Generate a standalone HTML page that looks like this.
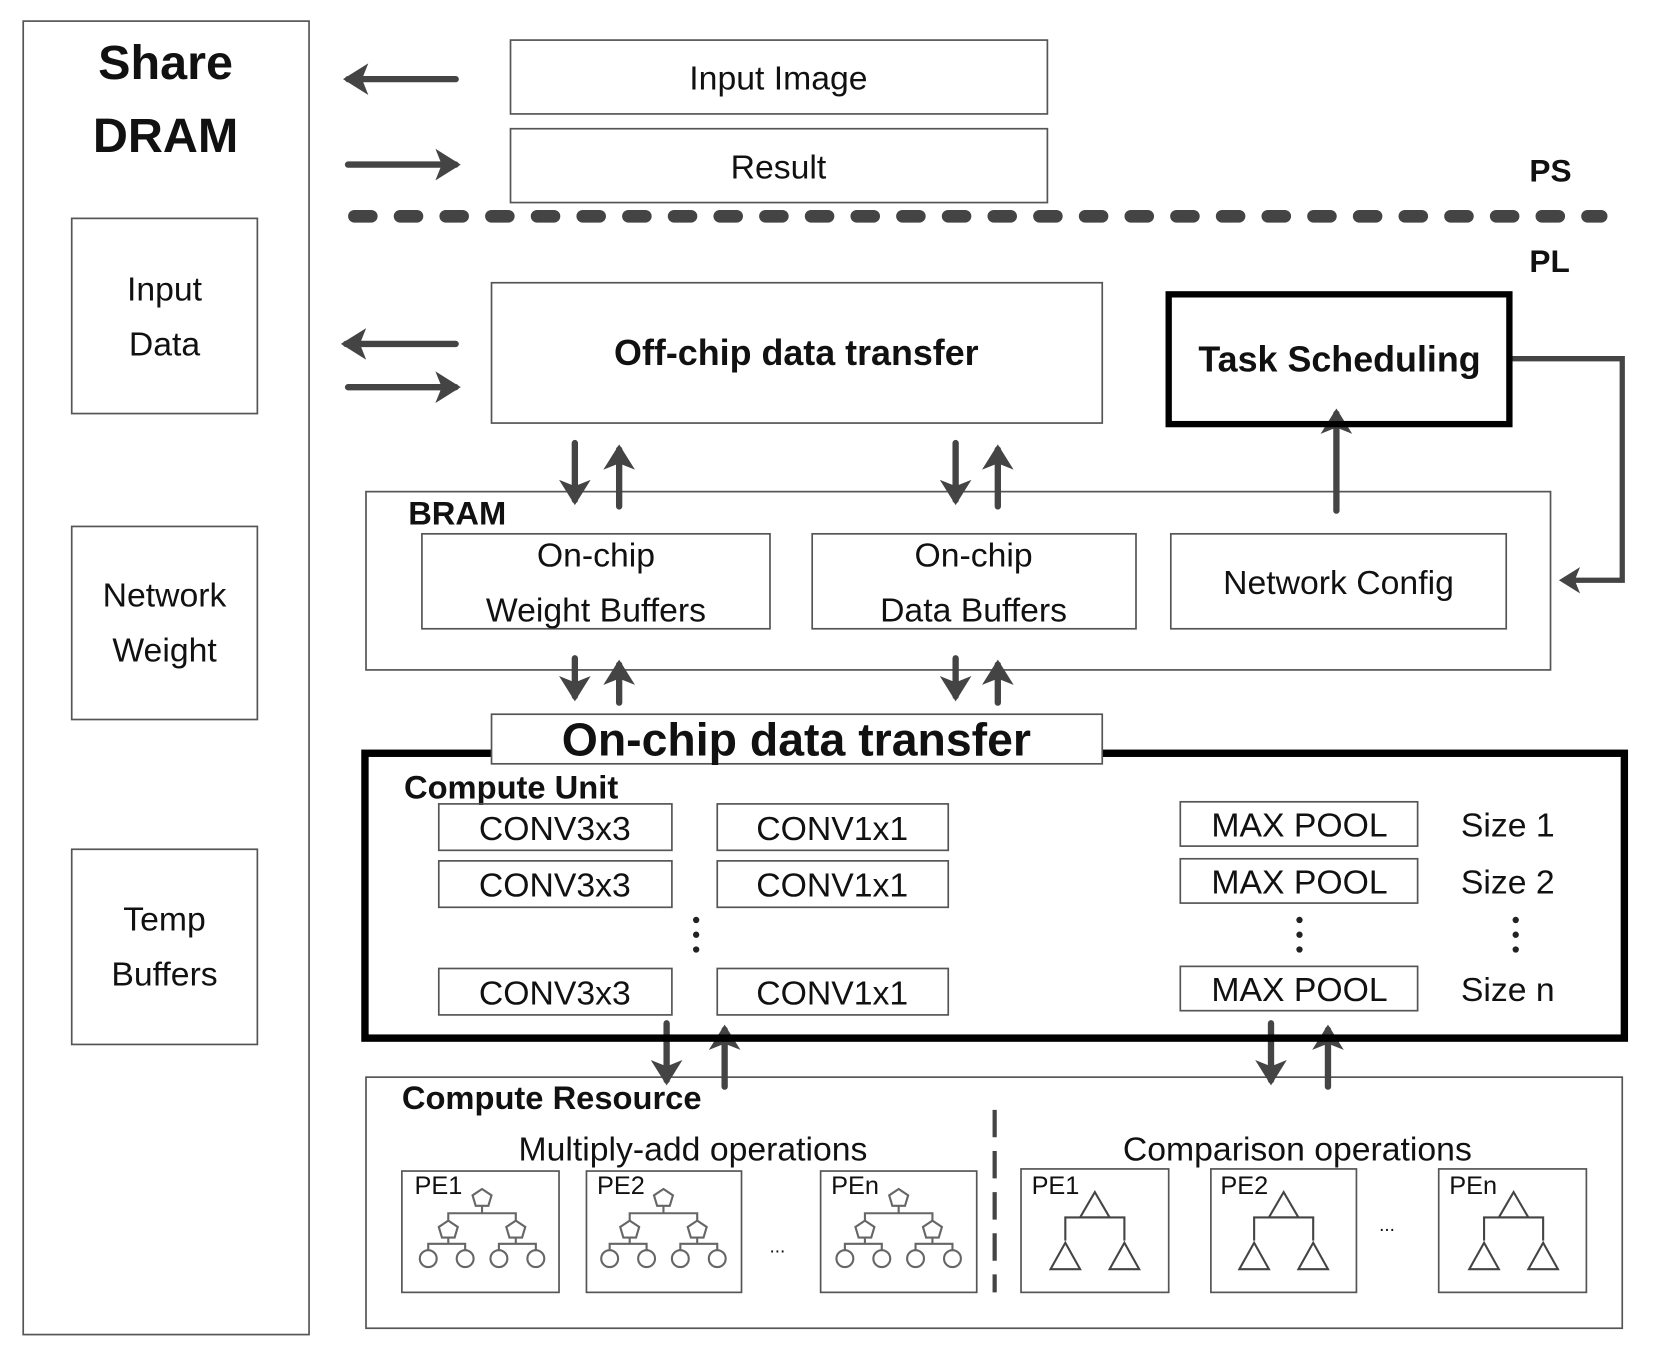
<!DOCTYPE html>
<html><head><meta charset="utf-8"><style>
html,body{margin:0;padding:0;background:#fff;}
svg{display:block;}
text{font-family:"Liberation Sans",sans-serif;fill:#111;}
.b{font-weight:bold;}
</style></head><body>
<svg width="1656" height="1362" viewBox="0 0 1570 1291" preserveAspectRatio="none" xmlns="http://www.w3.org/2000/svg">
<defs>
<marker id="ah" markerWidth="5" markerHeight="5" refX="3.2" refY="2.5" orient="auto" markerUnits="strokeWidth">
<path d="M0,0 L4,2.5 L0,5 L1,2.5 Z" fill="#444"/>
</marker>
<g id="pt" fill="none" stroke="#666" stroke-width="2">
<polygon points="76,17 85,23 82,33 70,33 67,23" fill="#fff"/>
<polyline points="76,33 76,40"/>
<polyline points="44,48 44,40 108,40 108,48"/>
<polygon points="44,47 53,53 50,63 38,63 35,53" fill="#fff"/>
<polygon points="108,47 117,53 114,63 102,63 99,53" fill="#fff"/>
<polyline points="25,75 25,69 60,69 60,75"/>
<polyline points="92,75 92,69 127,69 127,75"/>
<polyline points="44,63 44,69"/><polyline points="108,63 108,69"/>
<circle cx="25" cy="83" r="8"/><circle cx="60" cy="83" r="8"/>
<circle cx="92" cy="83" r="8"/><circle cx="127" cy="83" r="8"/>
</g>
<g id="tt" fill="none" stroke="#444" stroke-width="2">
<polygon points="70,22 84,46 56,46" fill="#fff"/>
<polyline points="42,68 42,46 98,46 98,68"/>
<polygon points="42,70 56,95 28,95" fill="#fff"/>
<polygon points="98,70 112,95 84,95" fill="#fff"/>
</g>
</defs>

<g fill="none" stroke="#555" stroke-width="1.6">
<rect x="22" y="20" width="271" height="1245"/>
<rect x="68" y="207" width="176" height="185"/>
<rect x="68" y="499" width="176" height="183"/>
<rect x="68" y="805" width="176" height="185"/>
<rect x="484" y="38" width="509" height="70"/>
<rect x="484" y="122" width="509" height="70"/>
<rect x="466" y="268" width="579" height="133"/>
<rect x="347" y="466" width="1123" height="169"/>
<rect x="400" y="506" width="330" height="90"/>
<rect x="770" y="506" width="307" height="90"/>
<rect x="1110" y="506" width="318" height="90"/>
<rect x="347" y="1021" width="1191" height="238"/>
</g>

<text x="157" y="75" font-size="46" text-anchor="middle" class="b">Share</text>
<text x="157" y="144" font-size="46" text-anchor="middle" class="b">DRAM</text>
<text x="156" y="285" font-size="32" text-anchor="middle">Input</text>
<text x="156" y="337" font-size="32" text-anchor="middle">Data</text>
<text x="156" y="575" font-size="32" text-anchor="middle">Network</text>
<text x="156" y="627" font-size="32" text-anchor="middle">Weight</text>
<text x="156" y="882" font-size="32" text-anchor="middle">Temp</text>
<text x="156" y="934" font-size="32" text-anchor="middle">Buffers</text>

<text x="738" y="85" font-size="32" text-anchor="middle">Input Image</text>
<text x="738" y="169" font-size="32" text-anchor="middle">Result</text>
<text x="1450" y="172" font-size="30" class="b">PS</text>
<text x="1450" y="258" font-size="30" class="b">PL</text>

<line x1="336" y1="205" x2="1518" y2="205" stroke="#444" stroke-width="12" stroke-linecap="round" stroke-dasharray="16 27.3"/>

<g stroke="#444" stroke-width="6" stroke-linecap="round" fill="none" marker-end="url(#ah)">
<line x1="432" y1="75" x2="330" y2="75"/>
<line x1="330" y1="156" x2="432" y2="156"/>
<line x1="432" y1="326" x2="328" y2="326"/>
<line x1="330" y1="367" x2="432" y2="367"/>
<line x1="545" y1="420" x2="545" y2="474"/>
<line x1="587" y1="480" x2="587" y2="426"/>
<line x1="906" y1="420" x2="906" y2="474"/>
<line x1="946" y1="480" x2="946" y2="426"/>
<line x1="545" y1="624" x2="545" y2="660"/>
<line x1="587" y1="666" x2="587" y2="630"/>
<line x1="906" y1="624" x2="906" y2="660"/>
<line x1="946" y1="666" x2="946" y2="630"/>
<line x1="1267" y1="484" x2="1267" y2="392"/>
<line x1="632" y1="970" x2="632" y2="1024"/>
<line x1="687" y1="1030" x2="687" y2="976"/>
<line x1="1205" y1="970" x2="1205" y2="1024"/>
<line x1="1259" y1="1030" x2="1259" y2="976"/>
</g>
<polyline points="1432,340 1538,340 1538,550 1482,550" fill="none" stroke="#444" stroke-width="5" marker-end="url(#ah)"/>

<text x="755" y="346" font-size="34" text-anchor="middle" class="b">Off-chip data transfer</text>
<rect x="1108" y="279" width="323" height="123" fill="none" stroke="#000" stroke-width="6"/>
<text x="1270" y="352" font-size="34" text-anchor="middle" class="b">Task Scheduling</text>

<text x="387" y="497" font-size="31" class="b">BRAM</text>
<text x="565" y="537" font-size="32" text-anchor="middle">On-chip</text>
<text x="565" y="589" font-size="32" text-anchor="middle">Weight Buffers</text>
<text x="923" y="537" font-size="32" text-anchor="middle">On-chip</text>
<text x="923" y="589" font-size="32" text-anchor="middle">Data Buffers</text>
<text x="1269" y="563" font-size="32" text-anchor="middle">Network Config</text>

<rect x="346" y="714" width="1194" height="270" fill="none" stroke="#000" stroke-width="7"/>
<rect x="466" y="677" width="579" height="47" fill="#fff" stroke="#555" stroke-width="1.6"/>
<text x="755" y="716" font-size="44" text-anchor="middle" class="b">On-chip data transfer</text>
<text x="383" y="757" font-size="31" class="b">Compute Unit</text>

<g fill="none" stroke="#555" stroke-width="1.6">
<rect x="416" y="762" width="221" height="44"/><rect x="416" y="816" width="221" height="44"/><rect x="416" y="918" width="221" height="44"/>
<rect x="680" y="762" width="219" height="44"/><rect x="680" y="816" width="219" height="44"/><rect x="680" y="918" width="219" height="44"/>
<rect x="1119" y="760" width="225" height="42"/><rect x="1119" y="814" width="225" height="42"/><rect x="1119" y="916" width="225" height="42"/>
</g>
<g font-size="32" text-anchor="middle">
<text x="526" y="796">CONV3x3</text><text x="526" y="850">CONV3x3</text><text x="526" y="952">CONV3x3</text>
<text x="789" y="796">CONV1x1</text><text x="789" y="850">CONV1x1</text><text x="789" y="952">CONV1x1</text>
<text x="1232" y="793">MAX POOL</text><text x="1232" y="847">MAX POOL</text><text x="1232" y="949">MAX POOL</text>
</g>
<g font-size="32">
<text x="1385" y="793">Size 1</text><text x="1385" y="847">Size 2</text><text x="1385" y="949">Size n</text>
</g>
<g fill="#222">
<circle cx="660" cy="872" r="3"/><circle cx="660" cy="886" r="3"/><circle cx="660" cy="900" r="3"/>
<circle cx="1232" cy="872" r="3"/><circle cx="1232" cy="886" r="3"/><circle cx="1232" cy="900" r="3"/>
<circle cx="1437" cy="872" r="3"/><circle cx="1437" cy="886" r="3"/><circle cx="1437" cy="900" r="3"/>
</g>

<text x="381" y="1051" font-size="31" class="b">Compute Resource</text>
<text x="657" y="1100" font-size="32" text-anchor="middle">Multiply-add operations</text>
<text x="1230" y="1100" font-size="32" text-anchor="middle">Comparison operations</text>
<line x1="943" y1="1052" x2="943" y2="1225" stroke="#444" stroke-width="4" stroke-dasharray="26 13"/>

<g fill="none" stroke="#555" stroke-width="1.6">
<rect x="381" y="1110" width="149" height="115"/><rect x="556" y="1110" width="147" height="115"/><rect x="778" y="1110" width="148" height="115"/>
<rect x="968" y="1108" width="140" height="117"/><rect x="1148" y="1108" width="138" height="117"/><rect x="1364" y="1108" width="140" height="117"/>
</g>
<use href="#pt" x="381" y="1110"/><use href="#pt" x="553" y="1110"/><use href="#pt" x="776" y="1110"/>
<use href="#tt" x="968" y="1108"/><use href="#tt" x="1147" y="1108"/><use href="#tt" x="1365" y="1108"/>
<g font-size="24">
<text x="393" y="1132">PE1</text><text x="566" y="1132">PE2</text><text x="788" y="1132">PEn</text>
<text x="978" y="1132">PE1</text><text x="1157" y="1132">PE2</text><text x="1374" y="1132">PEn</text>
</g>
<text x="737" y="1187" font-size="18" text-anchor="middle">...</text>
<text x="1315" y="1167" font-size="18" text-anchor="middle">...</text>
</svg>
</body></html>
